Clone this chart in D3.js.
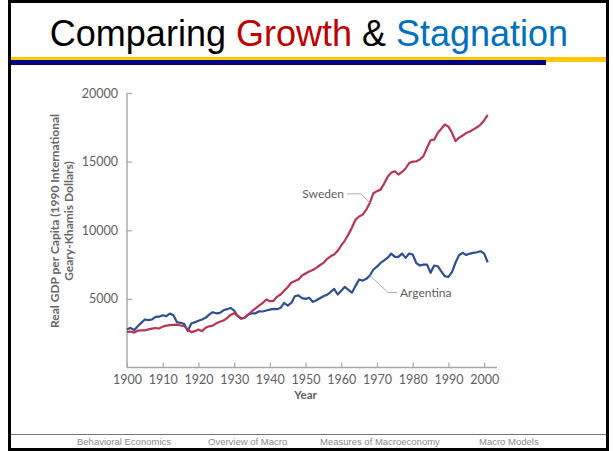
<!DOCTYPE html>
<html>
<head>
<meta charset="utf-8">
<script src="https://cdn.jsdelivr.net/npm/d3@7"></script>
<style>
  html, body { margin: 0; padding: 0; background: #fff; }
  svg { display: block; }
</style>
</head>
<body>
<div id="app"></div>
<script>
// values (1990 GK$), one per year from 1900
const startYear = 1900
const sweden = [
  2600, 2620, 2540, 2680, 2700, 2700, 2780, 2830, 2880, 2840,
  2980, 3050, 3090, 3110, 3120, 3060, 3020, 2780, 2580, 2650,
  2770, 2650, 2900, 3000, 3050, 3220, 3330, 3420, 3600, 3830,
  3960, 3780, 3600, 3620, 3880, 4100, 4300, 4500, 4700, 4950,
  4830, 4850, 5150, 5320, 5600, 5850, 6170, 6300, 6410, 6700,
  6850, 7000, 7100, 7260, 7450, 7620, 7900, 8100, 8230, 8500,
  8900, 9250, 9700, 10200, 10780, 11000, 11140, 11500, 12000, 12700,
  12850, 12960, 13400, 13900, 14200, 14300, 14060, 14250, 14500, 14900,
  15000, 15020, 15150, 15400, 16000, 16560, 16600, 17090, 17400, 17700,
  17550, 17100, 16500, 16750, 16900, 17090, 17200, 17350, 17500, 17700,
  18000, 18400
]
const argentina = [
  2770, 2890, 2720, 3010, 3250, 3500, 3450, 3500, 3690, 3700,
  3810, 3740, 3930, 3800, 3300, 3250, 3180, 2650, 3200, 3300,
  3400, 3500, 3620, 3850, 4030, 3950, 3980, 4170, 4250, 4340,
  4150, 3740, 3550, 3650, 3860, 3950, 3950, 4100, 4080, 4150,
  4220, 4270, 4250, 4340, 4710, 4500, 4700, 5190, 5250, 5050,
  5000, 5080, 4780, 4900, 5050, 5190, 5300, 5500, 5730, 5320,
  5600, 5880, 5650, 5450, 5950, 6410, 6330, 6460, 6700, 7140,
  7350, 7620, 7800, 8000, 8300, 8060, 8060, 8300, 7990, 8300,
  8230, 7600, 7430, 7500, 7500, 6900, 7430, 7380, 7000, 6650,
  6600, 6950, 7650, 8200, 8350, 8200, 8300, 8350, 8400, 8470,
  8300, 7670
]
const yearTicks = [1900, 1910, 1920, 1930, 1940, 1950, 1960, 1970, 1980, 1990, 2000]
const gdpTicks = [5000, 10000, 15000, 20000]
const footerItems = ['Behavioral Economics', 'Overview of Macro', 'Measures of Macroeconomy', 'Macro Models']
const footerX = [77, 208, 320, 479]

const width = 613, height = 451
const chartFont = 'Lato, "Open Sans", sans-serif'
const gray = '#5e5e60'

let svg = d3.select('#app').append('svg')
  .attr('width', width).attr('height', height)

// slide frame
svg.append('rect')
  .attr('x', 9.5).attr('y', 1.5)
  .attr('width', 598).attr('height', 448)
  .attr('fill', 'none').attr('stroke', '#000').attr('stroke-width', 3)

// title
let title = svg.append('text')
  .attr('x', 309).attr('y', 46)
  .attr('text-anchor', 'middle')
  .style('font-family', 'Arial, "Liberation Sans", sans-serif')
  .style('font-size', '36px')
title.append('tspan').attr('fill', '#000').text('Comparing ')
title.append('tspan').attr('fill', '#c00000').text('Growth')
title.append('tspan').attr('fill', '#000').text(' & ')
title.append('tspan').attr('fill', '#0070c0').text('Stagnation')

// header bars
svg.append('rect').attr('x', 11).attr('y', 57).attr('width', 595).attr('height', 5).attr('fill', '#ffc800')
svg.append('rect').attr('x', 11).attr('y', 60).attr('width', 535).attr('height', 5).attr('fill', '#000080')

// footer
svg.append('line')
  .attr('x1', 11).attr('x2', 606).attr('y1', 434.5).attr('y2', 434.5)
  .attr('stroke', '#777').attr('stroke-width', 1)
svg.append('g')
  .selectAll('text')
  .data(footerItems)
  .enter()
  .append('text')
  .attr('x', (d, i) => footerX[i])
  .attr('y', 445)
  .attr('fill', '#8a8a8a')
  .style('font-family', 'Arial, "Liberation Sans", sans-serif')
  .style('font-size', '9.5px')
  .text(d => d)

// chart
let x = d3.scaleLinear().domain([1900, 2003.6]).range([127, 497])
let y = d3.scaleLinear().domain([0, 20000]).range([367.5, 93])

const xAxis = d3.axisBottom(x)
  .tickValues(yearTicks)
  .tickSize(-5)
  .tickPadding(8)
  .tickFormat(d3.format('d'))

const yAxis = d3.axisLeft(y)
  .tickValues(gdpTicks)
  .tickSize(-5)
  .tickPadding(9)
  .tickFormat(d3.format('d'))

let gx = svg.append('g')
  .attr('transform', `translate(0, ${y(0)})`)
  .call(xAxis)
let gy = svg.append('g')
  .attr('transform', `translate(${x(1900)}, 0)`)
  .call(yAxis)

;[gx, gy].forEach(g => {
  g.select('.domain').attr('stroke', '#a7a7a7').attr('stroke-width', 1.4)
  g.selectAll('.tick line').attr('stroke', '#a7a7a7').attr('stroke-width', 1.2)
  g.selectAll('.tick text')
    .attr('fill', gray)
    .style('font-family', chartFont)
    .style('font-size', '12.5px')
})
gy.select('.domain').attr('d', `M0,${y(20000)}V${y(0)}`)
gx.select('.domain').attr('d', `M${x(1900)},0H${x(2003.6)}`)

// axis titles
svg.append('text')
  .attr('x', x(1950)).attr('y', 399)
  .attr('text-anchor', 'middle')
  .attr('fill', gray)
  .style('font-family', chartFont)
  .style('font-size', '11.5px')
  .style('font-weight', 'bold')
  .text('Year')

let ylab = svg.append('text')
  .attr('transform', `translate(0, 221) rotate(-90)`)
  .attr('text-anchor', 'middle')
  .attr('fill', '#666')
  .style('font-family', chartFont)
  .style('font-size', '12px')
  .style('font-weight', 'bold')
ylab.append('tspan').attr('x', 0).attr('y', 59).text('Real GDP per Capita (1990 International')
ylab.append('tspan').attr('x', 0).attr('y', 73).text('Geary-Khamis Dollars)')

// lines
let line = d3.line()
  .x((d, i) => x(startYear + i))
  .y(d => y(d))

svg.append('path')
  .datum(argentina)
  .attr('d', line)
  .attr('fill', 'none')
  .attr('stroke', '#2f4f8f')
  .attr('stroke-width', 2.2)
  .attr('stroke-linejoin', 'round')

svg.append('path')
  .datum(sweden)
  .attr('d', line)
  .attr('fill', 'none')
  .attr('stroke', '#b83650')
  .attr('stroke-width', 2.2)
  .attr('stroke-linejoin', 'round')

// labels with leader lines
const labelYear = 1968
let sx = x(labelYear), sy = y(sweden[labelYear - startYear])
let ax = x(labelYear), ay = y(argentina[labelYear - startYear])

svg.append('path')
  .attr('d', `M347,${sy - 9}H361L${sx},${sy}`)
  .attr('fill', 'none').attr('stroke', '#aaa').attr('stroke-width', 1)
svg.append('path')
  .attr('d', `M397,${ay + 17}H388L${ax},${ay}`)
  .attr('fill', 'none').attr('stroke', '#aaa').attr('stroke-width', 1)

svg.append('text')
  .attr('x', 344).attr('y', sy - 5)
  .attr('text-anchor', 'end')
  .attr('fill', gray)
  .style('font-family', chartFont)
  .style('font-size', '12px')
  .text('Sweden')

svg.append('text')
  .attr('x', 400).attr('y', ay + 21)
  .attr('fill', gray)
  .style('font-family', chartFont)
  .style('font-size', '12px')
  .text('Argentina')
</script>
</body>
</html>
